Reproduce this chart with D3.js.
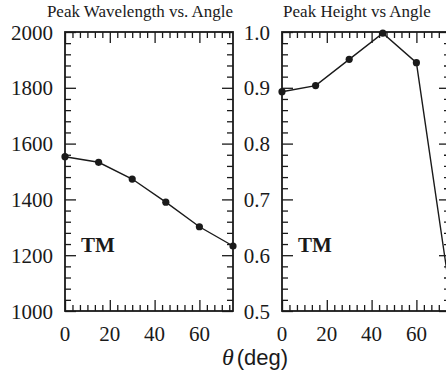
<!DOCTYPE html>
<html>
<head>
<meta charset="utf-8">
<script src="https://cdn.jsdelivr.net/npm/d3@7"></script>
<style>
  body { margin: 0; background: #fff; }
  svg { display: block; }
</style>
</head>
<body>
<div id="chart"></div>
<script>
// data
const angles = [0, 15, 30, 45, 60, 75];
const peakWavelength = [1553, 1533, 1473, 1390, 1302, 1233];
const peakHeight = [0.893, 0.904, 0.951, 0.998, 0.945, 0.533];

const xMajorTicks = [0, 20, 40, 60];
const wlMajorTicks = [1000, 1200, 1400, 1600, 1800, 2000];
const htMajorTicks = [0.5, 0.6, 0.7, 0.8, 0.9, 1.0];

const titles = ["Peak Wavelength vs. Angle", "Peak Height vs Angle"];

const width = 446;
const height = 371;
const ink = "#1a1a1a";

const svg = d3.select("#chart").append("svg")
    .attr("width", width)
    .attr("height", height);

const plotTop = 32, plotBottom = 311;

// one panel = frame + ticks on all four sides + line + dots
function panel(opts) {
    const x = d3.scaleLinear().domain([0, 75]).range([opts.x0, opts.x1]);
    const y = d3.scaleLinear().domain(opts.yDomain).range([plotBottom, plotTop]);

    const g = svg.append("g");

    const xMinor = d3.range(0, 75.01, 20 / 6).filter(v => Math.abs(v / 20 - Math.round(v / 20)) > 1e-6);
    const yMinor = d3.range(opts.yDomain[0], opts.yDomain[1] + opts.yMinorStep / 2, opts.yMinorStep)
        .filter(v => !opts.yMajor.some(m => Math.abs(m - v) < 1e-9));

    const axes = [
        [d3.axisBottom(x), `translate(0,${plotBottom})`, xMajorTicks, xMinor],
        [d3.axisTop(x), `translate(0,${plotTop})`, xMajorTicks, xMinor],
        [d3.axisLeft(y), `translate(${opts.x0},0)`, opts.yMajor, yMinor],
        [d3.axisRight(y), `translate(${opts.x1},0)`, opts.yMajor, yMinor]
    ];
    axes.forEach(([ax, tr, major, minor]) => {
        const a1 = g.append("g").attr("transform", tr)
            .call(ax.tickValues(major).tickSize(-11).tickFormat(""));
        const a2 = g.append("g").attr("transform", tr)
            .call(ax.tickValues(minor).tickSize(-6).tickFormat(""));
        [a1, a2].forEach(a => {
            a.select(".domain").remove();
            a.selectAll("line").attr("stroke", ink).attr("stroke-width", 1.3);
        });
    });

    // labels
    const lab = g.append("g")
        .attr("font-family", "Liberation Serif, Times New Roman, serif")
        .attr("font-size", 21)
        .attr("fill", ink);
    lab.selectAll(".xl").data(xMajorTicks).enter().append("text")
        .attr("x", d => x(d))
        .attr("y", 341)
        .attr("text-anchor", "middle")
        .text(d => d);
    lab.selectAll(".yl").data(opts.yMajor).enter().append("text")
        .attr("x", opts.x0 - 12)
        .attr("y", d => y(d))
        .attr("dy", "0.36em")
        .attr("text-anchor", "end")
        .text(opts.fmt);

    // frame
    g.append("rect")
        .attr("x", opts.x0).attr("y", plotTop)
        .attr("width", opts.x1 - opts.x0).attr("height", plotBottom - plotTop)
        .attr("fill", "none")
        .attr("stroke", ink)
        .attr("stroke-width", 1.8);

    const pts = angles.map((a, i) => [a, opts.values[i]]);
    g.append("path")
        .datum(pts)
        .attr("fill", "none")
        .attr("stroke", ink)
        .attr("stroke-width", 1.4)
        .attr("d", d3.line().x(d => x(d[0])).y(d => y(d[1])));
    g.selectAll("circle").data(pts).enter().append("circle")
        .attr("cx", d => x(d[0]))
        .attr("cy", d => y(d[1]))
        .attr("r", 3.6)
        .attr("fill", ink);

    // title
    g.append("text")
        .attr("x", opts.titleX)
        .attr("y", 17)
        .attr("text-anchor", "middle")
        .attr("font-family", "Liberation Serif, Times New Roman, serif")
        .attr("font-size", 17)
        .attr("fill", ink)
        .text(opts.title);

    g.append("text")
        .attr("x", opts.x0 + 16)
        .attr("y", 252)
        .attr("font-family", "Liberation Serif, Times New Roman, serif")
        .attr("font-weight", "bold")
        .attr("font-size", 21)
        .attr("fill", ink)
        .text("TM");
}

panel({
    x0: 65, x1: 233,
    yDomain: [1000, 2000], yMajor: wlMajorTicks, yMinorStep: 40,
    values: peakWavelength, fmt: d => d,
    title: titles[0], titleX: 140
});

panel({
    x0: 282, x1: 450,
    yDomain: [0.5, 1.0], yMajor: htMajorTicks, yMinorStep: 0.02,
    values: peakHeight, fmt: d3.format(".1f"),
    title: titles[1], titleX: 357
});

// shared x label
const xl = svg.append("text")
    .attr("x", 222)
    .attr("y", 365)
    .attr("fill", ink);
xl.append("tspan")
    .attr("font-family", "Liberation Serif, Times New Roman, serif")
    .attr("font-style", "italic")
    .attr("font-size", 24)
    .text("θ");
xl.append("tspan")
    .attr("dx", 3)
    .attr("font-family", "Liberation Sans, Arial, sans-serif")
    .attr("font-size", 22)
    .text("(deg)");
</script>
</body>
</html>
